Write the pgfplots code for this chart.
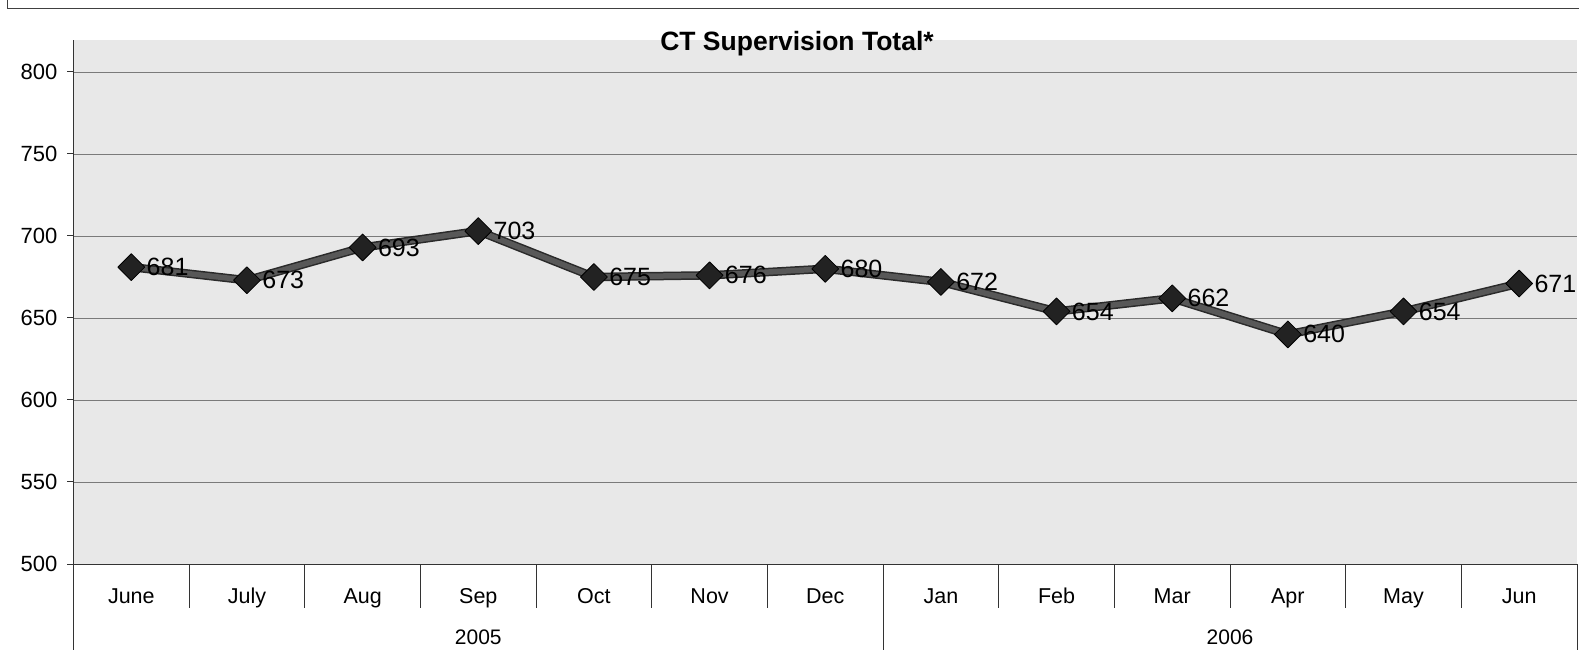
\documentclass[border=0pt]{standalone}
\usepackage{pgfplots}
\pgfplotsset{compat=1.18}
\usepackage{pgfplotstable}
\usepackage{fontspec}
\setmainfont{Liberation Sans}

\definecolor{bgfill}{HTML}{E8E8E8}
\definecolor{gridc}{HTML}{7A7A7A}
\definecolor{lineout}{HTML}{2A2A2A}
\definecolor{linein}{HTML}{585858}
\definecolor{markc}{HTML}{222222}

% CT supervision total, June 2005 .. June 2006
\pgfplotstableread{
x val
0 681
1 673
2 693
3 703
4 675
5 676
6 680
7 672
8 654
9 662
10 640
11 654
12 671
}\ctdata

\begin{document}
\begin{tikzpicture}[x=1pt,y=1pt]
\path[use as bounding box] (0,0) rectangle (1579,664);
% chart border (top and left, as in the scan)
\draw[black!75, line width=1pt] (7.5,664) -- (7.5,655) -- (1579,655);

\begin{axis}[
    at={(73.5pt,100pt)}, anchor=south west,
    scale only axis,
    width=1503.5pt, height=524pt,
    xmin=-0.5, xmax=12.5,
    ymin=500, ymax=819.5,
    axis x line*=bottom, axis y line*=left,
    axis line style={-, draw=black!80, line width=1pt},
    axis background/.style={fill=bgfill},
    xtick={0,...,12},
    xticklabels={June,July,Aug,Sep,Oct,Nov,Dec,Jan,Feb,Mar,Apr,May,Jun},
    xtick style={draw=none},
    xticklabel style={anchor=base, yshift=-33pt, font=\fontsize{21.5}{24}\selectfont},
    ytick={500,550,...,800},
    ytick style={draw=black!80, line width=1pt},
    tick align=outside,
    major tick length=6pt,
    yticklabel style={inner sep=0pt, xshift=-10pt, font=\fontsize{22}{25}\selectfont},
    /pgf/number format/assume math mode=true,
    ymajorgrids,
    grid style={gridc, line width=0.9pt},
    clip=false,
]
\addplot[lineout, line width=8.5pt, line join=round, forget plot] table[x=x, y=val] {\ctdata};
\addplot[linein, line width=5.5pt, line join=round,
    mark=square*, mark size=9.5pt,
    mark options={rotate=45, fill=markc, draw=black, line width=0.8pt},
    nodes near coords,
    every node near coord/.append style={anchor=west, inner sep=0pt, xshift=15pt,
        text=black, font=\fontsize{25}{29}\selectfont},
] table[x=x, y=val] {\ctdata};

% category separators
\pgfplotsinvokeforeach{0.5,1.5,2.5,3.5,4.5,5.5,7.5,8.5,9.5,10.5,11.5}{
  \draw[black!80, line width=1pt] (axis cs:#1,500) -- ++(0pt,-44pt);
}
\pgfplotsinvokeforeach{-0.5,6.5,12.5}{
  \draw[black!80, line width=1pt] (axis cs:#1,500) -- ++(0pt,-86pt);
}
\node[font=\fontsize{21}{24}\selectfont, yshift=-73pt] at (axis cs:3,500) {2005};
\node[font=\fontsize{21}{24}\selectfont, yshift=-73pt] at (axis cs:9.5,500) {2006};
\end{axis}

\node[font=\fontsize{26.5}{30}\selectfont\bfseries] at (797,620) {CT Supervision Total*};
\end{tikzpicture}
\end{document}
